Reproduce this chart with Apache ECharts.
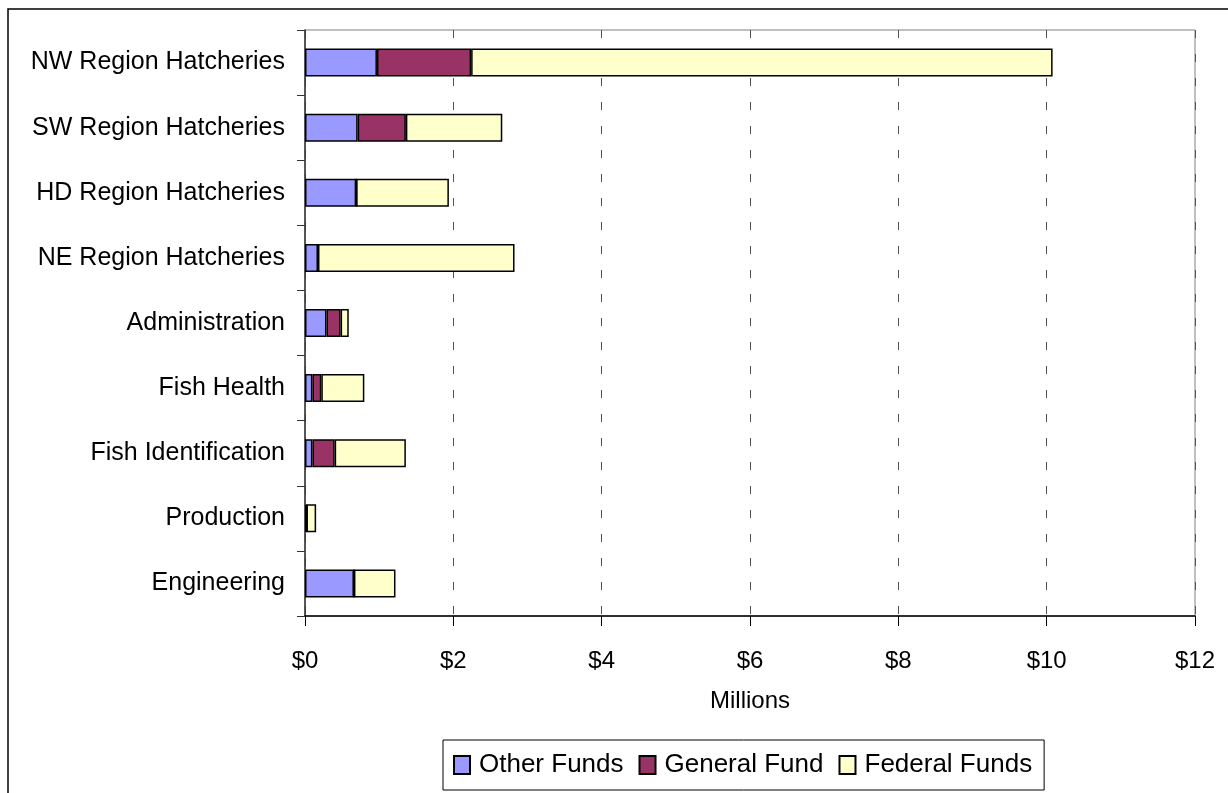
<!DOCTYPE html>
<html>
<head>
<meta charset="utf-8">
<script src="https://cdn.jsdelivr.net/npm/echarts@6/dist/echarts.min.js"></script>
<style>
html,body{margin:0;padding:0;background:#fff;}
#chart{width:1228px;height:793px;}
</style>
</head>
<body>
<div id="chart"></div>
<script>
const categories = ['NW Region Hatcheries','SW Region Hatcheries','HD Region Hatcheries','NE Region Hatcheries','Administration','Fish Health','Fish Identification','Production','Engineering'];
const otherFunds = [0.97, 0.71, 0.69, 0.175, 0.29, 0.10, 0.10, 0.02, 0.66];
const generalFund = [1.27, 0.65, 0, 0, 0.19, 0.12, 0.30, 0, 0];
const federalFunds = [7.84, 1.30, 1.25, 2.65, 0.11, 0.58, 0.96, 0.13, 0.56];
const seriesNames = ['Other Funds', 'General Fund', 'Federal Funds'];
const axisTitle = 'Millions';

const FONT = '"Liberation Sans", Arial, sans-serif';
const chart = echarts.init(document.getElementById('chart'), null, {renderer: 'canvas'});

function mkSeries(name, data, color) {
  return {
    name: name,
    type: 'bar',
    stack: 'total',
    data: data,
    barWidth: 28,
    itemStyle: {color: color, borderColor: '#000', borderWidth: 1.5},
    emphasis: {disabled: true}
  };
}

chart.setOption({
  animation: false,
  backgroundColor: '#fff',
  textStyle: {fontFamily: FONT},
  graphic: [{
    type: 'rect',
    shape: {x: 8, y: 9, width: 1240, height: 800},
    style: {fill: 'none', stroke: '#000', lineWidth: 1.5},
    silent: true
  }],
  grid: {left: 305, right: 33, top: 30, bottom: 177, show: true, borderColor: '#808080', borderWidth: 1, backgroundColor: 'transparent'},
  legend: {
    data: seriesNames,
    left: 443, top: 740,
    orient: 'horizontal',
    borderColor: '#000', borderWidth: 1,
    padding: [12, 12, 12, 10],
    itemGap: 15,
    itemWidth: 16, itemHeight: 18,
    icon: 'rect',
    textStyle: {fontSize: 26, color: '#000', fontFamily: FONT, padding: [0, 0, 0, 4]},
    selectedMode: false
  },
  xAxis: {
    type: 'value',
    min: 0, max: 12, interval: 2,
    name: axisTitle,
    nameLocation: 'middle',
    nameGap: 73,
    nameTextStyle: {fontSize: 24, color: '#000', fontFamily: FONT},
    axisLine: {show: true, lineStyle: {color: '#000', width: 1.5}},
    axisTick: {show: true, length: 10, lineStyle: {color: '#000'}},
    axisLabel: {formatter: v => '$' + v, fontSize: 24, color: '#000', margin: 33, fontFamily: FONT},
    splitLine: {show: true, lineStyle: {color: '#555', type: [8, 16], width: 1}}
  },
  yAxis: {
    type: 'category',
    data: categories,
    inverse: true,
    axisLine: {show: true, lineStyle: {color: '#333', width: 1.5}},
    axisTick: {show: true, length: 8, lineStyle: {color: '#333'}},
    axisLabel: {fontSize: 25, color: '#000', margin: 20, fontFamily: FONT},
    splitLine: {show: false}
  },
  series: [
    mkSeries(seriesNames[0], otherFunds, '#9999FF'),
    mkSeries(seriesNames[1], generalFund, '#993366'),
    mkSeries(seriesNames[2], federalFunds, '#FFFFCC')
  ]
});
</script>
</body>
</html>
